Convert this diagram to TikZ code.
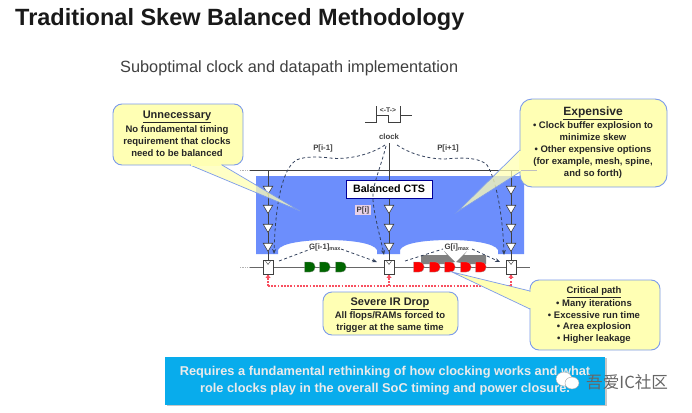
\documentclass[tikz,border=0pt]{standalone}
\usepackage{fontspec}
\setmainfont{Liberation Sans}
\newfontfamily\cjkfont{Noto Sans CJK SC}
\usetikzlibrary{arrows.meta,calc,shapes.geometric}
\definecolor{callfill}{HTML}{FFFFB4}
\definecolor{callline}{HTML}{7C9BEA}
\definecolor{ctsblue}{HTML}{6C8EFC}
\definecolor{banner}{HTML}{08ACEC}
\definecolor{wire}{HTML}{3F3F3F}
\definecolor{dashc}{HTML}{33415C}
\definecolor{reddot}{HTML}{F85060}
\tikzset{
 callbox/.style={draw=callline,line width=0.9pt,fill=callfill,rounded corners=9pt},
 callout/.style={draw=callline,line width=0.7pt,fill=callfill,fill opacity=0.75},
 calltext/.style={align=center,font=\fontsize{9.5}{12}\selectfont\bfseries,text=black!85,inner sep=0pt},
 callhead/.style={font=\fontsize{11}{12}\selectfont\bfseries,text=black!85,inner sep=0pt},
 wireline/.style={draw=wire,line width=0.9pt},
 bufshape/.style={draw=wire,fill=white,line width=0.6pt,regular polygon,regular polygon sides=3,shape border rotate=180,inner sep=0pt,minimum size=11pt},
 dashpath/.style={draw=dashc,line width=0.8pt,dash pattern=on 3pt off 2.5pt},
 dashtip/.style={dashpath,-{Stealth[length=5pt,width=4pt]}},
 ffbox/.style={draw=wire,fill=white,line width=0.6pt,minimum width=10pt,minimum height=14pt,inner sep=0pt},
 lab/.style={font=\fontsize{7.8}{9}\selectfont\bfseries,text=black!75,inner sep=0pt},
 redd/.style={draw=reddot,line width=1.4pt,dash pattern=on 1.7pt off 1.5pt},
}
\newcommand{\andgate}[3]{\fill[#3,draw=black!40,line width=0.3pt] (#1-5.5,#2-5) -- (#1,#2-5) .. controls (#1+7,#2-5) and (#1+7,#2+5) .. (#1,#2+5) -- (#1-5.5,#2+5) -- cycle;}
\begin{document}
\begin{tikzpicture}[x=1pt,y=-1pt]
\useasboundingbox (0,0) rectangle (692,412);
\fill[white] (0,0) rectangle (692,412);
\node[anchor=base west,inner sep=0pt,font=\fontsize{23.5}{26}\selectfont\bfseries,text=black!90] (title) at (15,25.5) {Traditional Skew Balanced Methodology};
\node[anchor=base west,inner sep=0pt,font=\fontsize{16.3}{18}\selectfont,text=black!75] (subt) at (120,72.5) {Suboptimal clock and datapath implementation};
% blue area
\fill[ctsblue] (256,176) -- (524,176) -- (524,254) -- (498,254) -- (498,250) .. controls (495,243) and (470,240) .. (450,240) .. controls (425,240) and (403,243) .. (400,250) -- (400,254) -- (377,254) -- (377,250) .. controls (374,243) and (350,240) .. (328,240) .. controls (305,240) and (281,243) .. (278,250) -- (278,254) -- (256,254) -- cycle;
% clock
\draw[black!30,line width=0.7pt,densely dotted] (240,170) -- (250,170);
\draw[wireline] (250,170) -- (530,170);
\draw[wireline] (389,143) -- (389,262);
\draw[wireline] (268,170) -- (268,262);
\draw[wireline] (511,170) -- (511,262);
\draw[wire,line width=0.8pt] (365,122) -- (376,122) -- (376,115) -- (388,115) -- (388,122) -- (400,122) -- (400,115) -- (412,115);
\draw[wire,line width=0.5pt] (376,115) -- (376,106);
\draw[wire,line width=0.5pt] (400,115) -- (400,106);
\node[lab,font=\fontsize{6.8}{8}\selectfont\bfseries] (tlab) at (388,110) {<-T->};
\node[lab] (clk) at (389,137) {clock};
\foreach \x/\n in {268/a,389/b,511/c}{
 \foreach \y in {208,227,246}{\node[bufshape] (b\n\y) at (\x,\y) {};}
}
\node[bufshape] (ba) at (268,189) {};
\node[bufshape] (bc) at (511,189) {};
% data line
\draw[black!30,line width=0.7pt,densely dotted] (240,267) -- (250,267);
\draw[wireline,draw=black!60] (250,267) -- (530,267);
% grey arrows
\fill[black!50] (421,255) -- (447,255) -- (444,251) -- (455,262) -- (445,264) -- (421,264) -- cycle;
\fill[black!50] (486,255) -- (464,255) -- (467,251) -- (456,262) -- (466,264) -- (486,264) -- cycle;
\foreach \x in {310,325,341}{\andgate{\x}{267}{green!40!black}}
\foreach \x in {419,435,450,466,481}{\andgate{\x}{267}{red}}
\node[ffbox] (ffa) at (268,267.5) {};
\node[ffbox] (ffb) at (389,267.5) {};
\node[ffbox] (ffc) at (511,267.5) {};
\foreach \x in {268,389,511}{\draw[wire,line width=0.4pt] (\x-2.5,261) -- (\x,264.5) -- (\x+2.5,261);}
% CTS
\node[draw=blue!60!black,fill=white,line width=0.8pt,minimum width=86pt,minimum height=18pt,inner sep=0pt,font=\fontsize{10.7}{12}\selectfont\bfseries] (cts) at (389,189) {Balanced CTS};
\node[lab,fill=violet!18,inner sep=1.5pt] (pi) at (363,210) {P[i]};
\node[lab] (pm) at (323,148) {P[i-1]};
\node[lab] (pp) at (448,148) {P[i+1]};
\node[lab] (g1) at (325,247) {G[i-1]\textsubscript{max}};
\node[lab] (g2) at (457,247) {G[i]\textsubscript{max}};
% dashed
\coordinate (s1) at (385,145);\coordinate (e1) at (274,254);
\coordinate (s2) at (386,146);\coordinate (e2) at (384,255);
\coordinate (s3) at (397,145);\coordinate (e3) at (504,255);
\draw[dashtip] (s1) .. controls (370,155) and (347,160) .. (330,158) .. controls (315,156) and (300,157) .. (295,161) .. controls (280,172) and (275,215) .. (e1);
\draw[dashtip] (s2) .. controls (380,170) and (372,185) .. (373,200) .. controls (374,215) and (381,240) .. (e2);
\draw[dashtip] (s3) .. controls (412,155) and (430,159) .. (445,159) .. controls (465,157) and (480,158) .. (487,165) .. controls (497,180) and (503,220) .. (e3);
\coordinate (g1a) at (279,261);\coordinate (g1b) at (377,262);
\coordinate (g2a) at (405,261);\coordinate (g2b) at (500,262);
\draw[dashpath] (g1a) -- (311,249);\draw[dashtip] (341,249) -- (g1b);
\draw[dashpath] (g2a) -- (443,249);\draw[dashtip] (472,249) -- (g2b);
% red
\coordinate (r1) at (268,286);\coordinate (r2) at (389,286);\coordinate (r3) at (511,286);
\draw[redd] (r1) -- (r3) -- (ffc.south);
\draw[redd] (r1) -- (ffa.south);
\draw[redd] (r2) -- (ffb.south);
\foreach \n in {a,b,c}{\fill[reddot] (ff\n.south) ++(-2.5,3) -- ++(2.5,-3) -- ++(2.5,3) -- cycle;}
% callouts
\node[callbox,minimum width=130pt,minimum height=61pt] (c1) at (178,134.5) {};
\draw[callout] (190,165) -- (300,211) -- (222,165);
\fill[callfill] (191,164) rectangle (221,166);
\node[callhead] (c1h) at (177,117) {\underline{Unnecessary}};
\node[calltext] (c1t) at (177,141) {No fundamental timing\\requirement that clocks\\need to be balanced};

\node[callbox,minimum width=147pt,minimum height=88pt,rounded corners=12pt] (c2) at (593.5,143) {};
\draw[callout] (520,150) -- (457,212) -- (520,172);
\fill[callfill] (519,151) rectangle (521,171);
\draw[black!25,line width=0.7pt] (521,170) -- (537,170);
\node[callhead,font=\fontsize{12}{13}\selectfont\bfseries] (c2h) at (593,113.5) {\underline{Expensive}};
\node[calltext] (c2t) at (593,150) {• Clock buffer explosion to\\minimize skew\\• Other expensive options\\(for example, mesh, spine,\\and so forth)};

\draw[callout,fill opacity=1] (530,291) -- (452,272) -- (530,309);
\node[callbox,minimum width=130pt,minimum height=70pt] (c3) at (595,315) {};
\fill[callfill] (529,292) rectangle (531,308);
\node[callhead,font=\fontsize{9.5}{11}\selectfont\bfseries] (c3h) at (594,292) {\underline{Critical path}};
\node[calltext,font=\fontsize{9.5}{11.7}\selectfont\bfseries] (c3t) at (594,321.5) {• Many iterations\\• Excessive run time\\• Area explosion\\• Higher leakage};

\node[callbox,minimum width=135pt,minimum height=43pt] (c4) at (390.5,313.5) {};
\node[callhead] (c4h) at (390,304) {\underline{Severe IR Drop}};
\node[calltext] (c4t) at (390,322) {All flops/RAMs forced to\\trigger at the same time};
% banner
\fill[black!22] (167,358) rectangle (606.5,405.5);
\node[fill=banner,minimum width=440pt,minimum height=48pt,inner sep=0pt,align=center,text=white!92!black,font=\fontsize{12.8}{17}\selectfont\bfseries] (ban) at (385,381) {Requires a fundamental rethinking of how clocking works and what\\role clocks play in the overall SoC timing and power closure.};
% watermark
\fill[white,draw=black!35,line width=0.4pt] (564,379) ellipse (8 and 7);
\fill[white,draw=black!35,line width=0.4pt] (572,383) ellipse (7 and 6);
\node[anchor=west,inner sep=0pt,text=black!60,font=\cjkfont\fontsize{16.6}{18}\selectfont] (wm) at (586,382) {吾爱IC社区};
\end{tikzpicture}
\end{document}
